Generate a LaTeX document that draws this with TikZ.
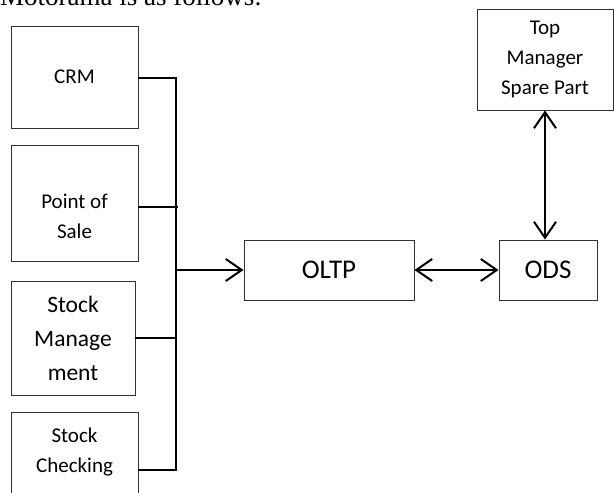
\documentclass[tikz,border=0pt]{standalone}
\usepackage{fontspec}
\setmainfont{Carlito}
\newfontfamily\titlefont{Liberation Serif}
\usepackage{tikz}
\usetikzlibrary{arrows.meta}

\begin{document}
\begin{tikzpicture}[
  x=1pt, y=-1pt,
  box/.style={rectangle, draw=black!80, line width=0.9pt, inner sep=0pt, align=center, font=\fontsize{21}{30}\selectfont},
  link/.style={line width=2pt},
  arrow/.style={line width=2pt, -{Straight Barb[length=16pt, width=22pt]}},
  dblarrow/.style={line width=2pt, {Straight Barb[length=16pt, width=22pt]}-{Straight Barb[length=16pt, width=22pt]}}
]
  \useasboundingbox (0,0) rectangle (614,493);
  \node[anchor=base west, inner sep=0pt, font=\titlefont\fontsize{27}{32}\selectfont] (title) at (0,5.5) {Motorama is as follows:};

  % sources
  \node[box, minimum width=127, minimum height=102] (crm) at (74.5,77) {CRM};
  \node[box, minimum width=127, minimum height=116,
        label={[align=center, font=\fontsize{21}{30}\selectfont, yshift=-13pt]center:Point of\\Sale}] (pos) at (74.5,203) {};
  \node[box, minimum width=124, minimum height=114, font=\fontsize{23.5}{34}\selectfont] (stm) at (73,338) {Stock\\Manage\\ment};
  \node[box, minimum width=127, minimum height=110,
        label={[align=center, font=\fontsize{21}{30}\selectfont, yshift=15pt]center:Stock\\Checking}] (stc) at (74.5,467) {};

  % targets
  \node[box, minimum width=170, minimum height=60, font=\fontsize{27}{32}\selectfont] (oltp) at (329,270) {OLTP};
  \node[box, minimum width=98, minimum height=60, font=\fontsize{27}{32}\selectfont] (ods) at (548,270) {ODS};
  \node[box, minimum width=136, minimum height=101] (top) at (545,59.5) {Top\\Manager\\Spare Part};

  \coordinate (join) at (176,270);
  \draw[link] ([yshift=-1pt]crm.east) -| (join);
  \draw[link] ([yshift=-3pt]stc.east) -| (join);
  \draw[link] ([yshift=-4pt]pos.east) -- ([xshift=2pt, yshift=-4pt]pos.east -| join);
  \draw[link] (stm.east) -- (stm.east -| join);
  \draw[arrow] (join) -- (oltp.west);
  \draw[dblarrow] (oltp.east) -- (ods.west);
  \draw[dblarrow] (top.south) -- (top.south |- ods.north);
\end{tikzpicture}
\end{document}
